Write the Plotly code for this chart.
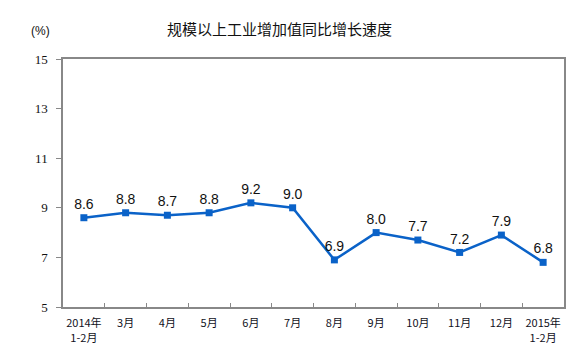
import plotly.graph_objects as go

label_line1 = ["2014年", "3月", "4月", "5月", "6月", "7月", "8月", "9月", "10月", "11月", "12月", "2015年"]
label_line2 = ["1-2月", "", "", "", "", "", "", "", "", "", "", "1-2月"]
values = [8.6, 8.8, 8.7, 8.8, 9.2, 9.0, 6.9, 8.0, 7.7, 7.2, 7.9, 6.8]
y_ticks = [5, 7, 9, 11, 13, 15]

W, H = 575, 352
L, R, T, B = 63, 11, 59, 45
n = len(values)
xs = list(range(n))

fig = go.Figure()
fig.add_trace(go.Scatter(
    x=xs, y=values,
    mode="lines+markers+text",
    line=dict(color="#0A62C8", width=2.5),
    marker=dict(symbol="square", size=7, color="#0A62C8"),
    text=[f"{v:.1f}" for v in values],
    textposition="top center",
    textfont=dict(family="Liberation Sans, Arial", size=14, color="#111111"),
    cliponaxis=False,
    hoverinfo="skip",
))

label_font = dict(family="Noto Sans CJK SC", size=11, color="#111122")
common = dict(overlaying="x", matches="x", side="bottom", automargin=False,
              range=[-0.5, n - 0.5], tickmode="array", tickvals=xs,
              ticks="", showgrid=False, zeroline=False, showline=False,
              tickfont=label_font)

fig.update_layout(
    width=W, height=H,
    margin=dict(l=L, r=R, t=T, b=B, autoexpand=False),
    paper_bgcolor="white", plot_bgcolor="white",
    showlegend=False,
    xaxis=dict(
        range=[-0.5, n - 0.5],
        tickmode="array",
        tickvals=[i - 0.5 for i in range(1, n)],
        ticktext=[""] * (n - 1),
        ticks="inside", ticklen=4, tickcolor="#888888", tickwidth=1,
        showgrid=False, zeroline=False, automargin=False,
        showline=True, linecolor="#888888", linewidth=1.5, mirror=True,
    ),
    xaxis2=dict(ticktext=label_line1, ticklabelstandoff=8, **common),
    xaxis3=dict(ticktext=label_line2, ticklabelstandoff=23, **common),
    yaxis=dict(
        range=[5, 15],
        tickmode="array", tickvals=y_ticks,
        ticks="outside", ticklen=5, tickcolor="#888888",
        showgrid=False, zeroline=False, automargin=False,
        showline=True, linecolor="#888888", linewidth=1.5, mirror=True,
        ticklabelstandoff=6,
        tickfont=dict(family="Liberation Serif, Times New Roman", size=13, color="#111111"),
    ),
)

# invisible traces to activate the label axes
for ax in ["x2", "x3"]:
    fig.add_trace(go.Scatter(x=[0], y=[None], xaxis=ax, mode="markers",
                             marker=dict(opacity=0), hoverinfo="skip"))

fig.add_annotation(text="规模以上工业增加值同比增长速度", xref="paper", yref="paper",
                   x=(279 - L) / (W - L - R), y=1 + (T - 29) / (H - T - B),
                   xanchor="center", yanchor="middle", showarrow=False,
                   font=dict(family="Noto Sans CJK SC", size=15, color="#111111"))
fig.add_annotation(text="(%)", xref="paper", yref="paper",
                   x=(40 - L) / (W - L - R), y=1 + (T - 31) / (H - T - B),
                   xanchor="center", yanchor="middle", showarrow=False,
                   font=dict(family="Liberation Sans, Arial", size=12, color="#111111"))

fig.write_html("out.html")
